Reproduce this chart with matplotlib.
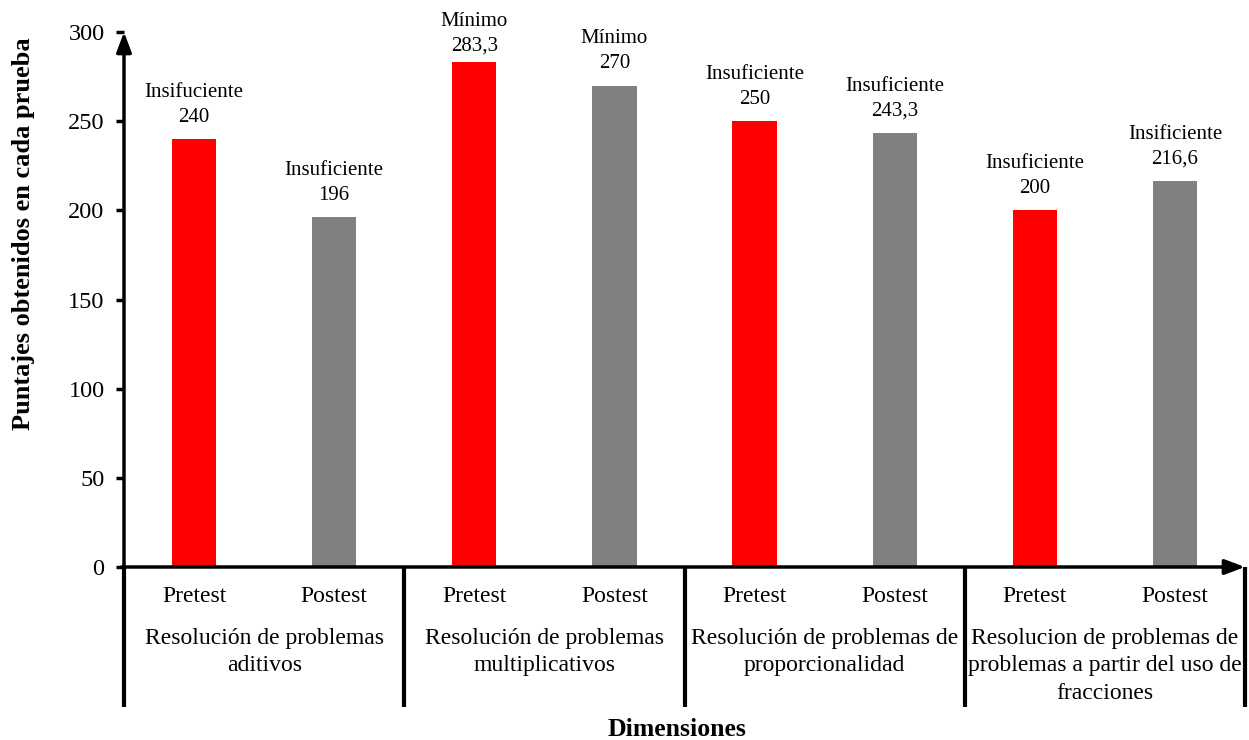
import matplotlib
matplotlib.use("Agg")
import matplotlib.pyplot as plt

plt.rcParams['font.family'] = ['Liberation Serif', 'DejaVu Serif']

tests = ["Pretest", "Postest", "Pretest", "Postest", "Pretest", "Postest", "Pretest", "Postest"]
values = [240, 196, 283.3, 270, 250, 243.3, 200, 216.6]
value_labels = ["240", "196", "283,3", "270", "250", "243,3", "200", "216,6"]
levels = ["Insifuciente", "Insuficiente", "Mínimo", "Mínimo",
          "Insuficiente", "Insuficiente", "Insuficiente", "Insificiente"]
groups = ["Resolución de problemas\naditivos",
          "Resolución de problemas\nmultiplicativos",
          "Resolución de problemas de\nproporcionalidad",
          "Resolucion de problemas de\nproblemas a partir del uso de\nfracciones"]
colors = ["#FF0000", "#808080"] * 4
yticks = [0, 50, 100, 150, 200, 250, 300]

W, H = 1249, 740
fig = plt.figure(figsize=(W / 100, H / 100), dpi=100)
x0, x1, y0, y1 = 124, 1245, 567, 32
ax = fig.add_axes([x0 / W, (H - y0) / H, (x1 - x0) / W, (y0 - y1) / H])

pos = [i + 0.5 for i in range(len(values))]
ax.bar(pos, values, width=0.315, color=colors, zorder=2)
ax.set_xlim(0, len(values))
ax.set_ylim(0, 300)
for s in ax.spines.values():
    s.set_visible(False)
ax.set_xticks([])
ax.set_yticks(yticks)
ax.tick_params(axis='y', length=6, width=2.5, direction='out', labelsize=17.5, pad=8, color='black')

# value annotations (labels near the top edge are kept inside the figure)
for p, v, lab, lev in zip(pos, values, value_labels, levels):
    off = 9 if v < 280 else 4.5
    ax.annotate(f"{lev}\n{lab}", (p, v), xytext=(0, off), textcoords='offset points',
                ha='center', va='bottom', fontsize=15, linespacing=1.4)

# axes with arrows
arrow = dict(arrowstyle='-|>,head_length=1.2,head_width=0.45', lw=2.5, color='black',
             shrinkA=0, shrinkB=0)
ax.annotate("", xy=(0, 1.0), xytext=(0, -0.005), xycoords='axes fraction',
            arrowprops=arrow, annotation_clip=False)
ax.annotate("", xy=(1.0, 0), xytext=(-0.002, 0), xycoords='axes fraction',
            arrowprops=arrow, annotation_clip=False)

# group separators
tr = ax.get_xaxis_transform()
ybot = -(707 - y0) / (y0 - y1)
for gx in [0, 2, 4, 6, 8]:
    ax.plot([gx, gx], [0, ybot], transform=tr, color='black', lw=3, clip_on=False, solid_capstyle='butt')

# category labels
ytest = -(596 - y0) / (y0 - y1)
for p, t in zip(pos, tests):
    ax.text(p, ytest, t, transform=tr, ha='center', va='center', fontsize=17)
ygrp = -(628 - y0) / (y0 - y1)
for i, g in enumerate(groups):
    ax.text(2 * i + 1, ygrp, g, transform=tr, ha='center', va='top', fontsize=17, linespacing=1.4)

fig.text(677 / W, 1 - 729 / H, "Dimensiones", ha='center', va='center', fontsize=18.5, fontweight='bold')
fig.text(24 / W, 1 - 234 / H, "Puntajes obtenidos en cada prueba", ha='center', va='center',
         rotation=90, fontsize=19, fontweight='bold')

fig.savefig("out.png", dpi=100)
